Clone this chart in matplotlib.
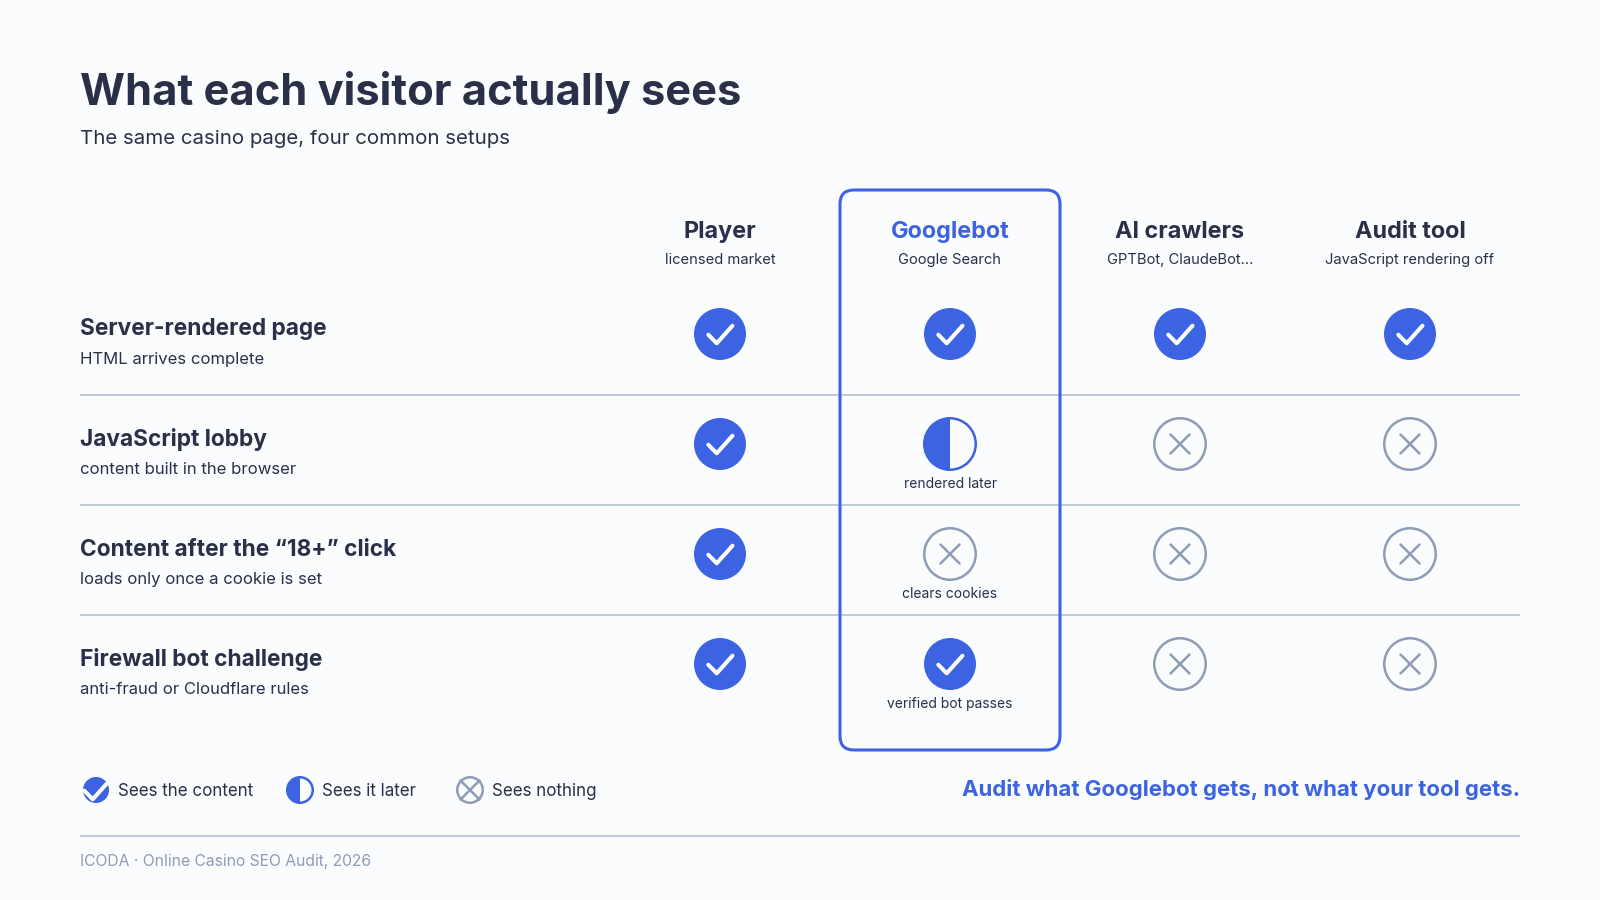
import matplotlib
matplotlib.use('Agg')
import matplotlib.pyplot as plt
from matplotlib.patches import Circle, Wedge, FancyBboxPatch

plt.rcParams['font.family'] = ['Inter', 'DejaVu Sans']

# 数据
columns = ['Player', 'Googlebot', 'AI crawlers', 'Audit tool']
column_subs = ['licensed market', 'Google Search', 'GPTBot, ClaudeBot...', 'JavaScript rendering off']
rows = ['Server-rendered page', 'JavaScript lobby', 'Content after the “18+” click', 'Firewall bot challenge']
row_subs = ['HTML arrives complete', 'content built in the browser', 'loads only once a cookie is set', 'anti-fraud or Cloudflare rules']
player = ['yes', 'yes', 'yes', 'yes']
googlebot = ['yes', 'later', 'no', 'yes']
ai_crawlers = ['yes', 'no', 'no', 'no']
audit_tool = ['yes', 'no', 'no', 'no']
notes = ['', 'rendered later', 'clears cookies', 'verified bot passes']
legend_labels = ['Sees the content', 'Sees it later', 'Sees nothing']
legend_kinds = ['yes', 'later', 'no']

BLUE = '#3c63e2'
DARK = '#2a3048'
GRAY = '#8f9cb6'
LINE = '#bfc8da'
BG = '#fbfcfe'

# 版面
col_x = [720, 950, 1180, 1410]
row_y = [334, 444, 554, 664]
left, right = 80, 1520


def px(size):
    return size * 0.72


def draw_icon(ax, x, y, kind, r=26, r_open=27):
    # 勾和叉的大小不随圆缩放，图例里也一样
    if kind == 'yes':
        ax.add_patch(Circle((x, y), r, fc=BLUE, ec='none', zorder=3))
        ax.plot([x - 11.7, x - 3.3, x + 12.5], [y + 0.7, y + 9.3, y - 8.3],
                color='white', lw=2.9, solid_capstyle='round', solid_joinstyle='round', zorder=4)
    elif kind == 'later':
        ax.add_patch(Wedge((x, y), r_open - 0.5, 90, 270, fc=BLUE, ec='none', zorder=3))
        ax.add_patch(Circle((x, y), r_open - 1.25, fc='none', ec=BLUE, lw=1.8, zorder=4))
    else:
        ax.add_patch(Circle((x, y), r_open - 1.25, fc='none', ec=GRAY, lw=1.8, zorder=3))
        d = 9.5
        for sign in (1, -1):
            ax.plot([x - d, x + d], [y - sign * d, y + sign * d], color=GRAY, lw=1.8,
                    solid_capstyle='round', zorder=4)


fig = plt.figure(figsize=(16, 9), dpi=100, facecolor=BG)
ax = fig.add_axes([0, 0, 1, 1])
ax.set_xlim(0, 1600)
ax.set_ylim(900, 0)
ax.axis('off')

# 标题
ax.text(left, 93, 'What each visitor actually sees', fontsize=px(43.4), fontweight='bold', color=DARK, va='center')
ax.text(left, 138.5, 'The same casino page, four common setups', fontsize=px(20.4), color=DARK, va='center')

# 分隔线
for y in [395, 505, 615, 836]:
    ax.plot([left, right], [y, y], color=LINE, lw=1.4, solid_capstyle='butt', zorder=1)

# Googlebot 高亮框
ax.add_patch(FancyBboxPatch((840 + 14, 190 + 14), 220 - 28, 560 - 28, boxstyle='round,pad=14,rounding_size=14',
                            fc='none', ec=BLUE, lw=2.2, zorder=2))

# 表头
for x, name, sub in zip(col_x, columns, column_subs):
    color = BLUE if name == 'Googlebot' else DARK
    ax.text(x, 232, name, fontsize=px(23.4), fontweight='bold', color=color, ha='center', va='center')
    ax.text(x, 260, sub, fontsize=px(14.75), color=DARK, ha='center', va='center')

# 行
for y, name, sub in zip(row_y, rows, row_subs):
    ax.text(left, y - 4.5, name, fontsize=px(22.7), fontweight='bold', color=DARK, va='center')
    ax.text(left, y + 25.5, sub, fontsize=px(16.7), color=DARK, va='center')

# 图标
for x, statuses in zip(col_x, [player, googlebot, ai_crawlers, audit_tool]):
    for y, kind in zip(row_y, statuses):
        draw_icon(ax, x, y, kind)

for y, note in zip(row_y, notes):
    if note:
        ax.text(col_x[1], y + 40, note, fontsize=px(13.85), color=DARK, ha='center', va='center')

# 图例
legend_x = [96, 300, 470]
for x, label, kind in zip(legend_x, legend_labels, legend_kinds):
    draw_icon(ax, x, 790, kind, r=13, r_open=14)
    ax.text(x + 22, 791, label, fontsize=px(17.0), color=DARK, va='center')

ax.text(right, 790, 'Audit what Googlebot gets, not what your tool gets.', fontsize=px(22.2), fontweight='bold',
        color=BLUE, ha='right', va='center')
ax.text(left, 861.5, 'ICODA · Online Casino SEO Audit, 2026', fontsize=px(15.65), color=GRAY, va='center')

fig.savefig('out.png', dpi=100, facecolor=BG)
plt.close(fig)
